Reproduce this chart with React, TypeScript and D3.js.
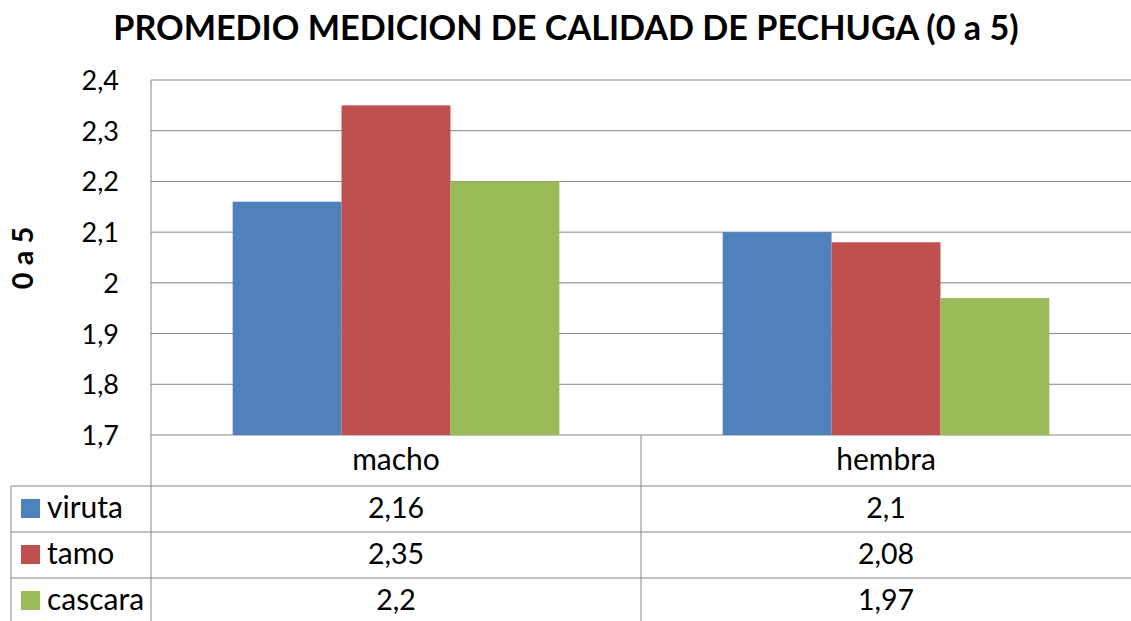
import React from "react";
import * as d3 from "d3";

const categories = ["macho", "hembra"];
const seriesNames = ["viruta", "tamo", "cascara"];
const viruta = [2.16, 2.1];
const tamo = [2.35, 2.08];
const cascara = [2.2, 1.97];
const seriesColors = ["#4F81BD", "#C0504D", "#9BBB59"];
const yTicks = [1.7, 1.8, 1.9, 2.0, 2.1, 2.2, 2.3, 2.4];
const tickLabels = ["1,7", "1,8", "1,9", "2", "2,1", "2,2", "2,3", "2,4"];
const valueLabels = [["2,16", "2,1"], ["2,35", "2,08"], ["2,2", "1,97"]];

const W = 1131;
const H = 621;
const FONT = "Lato, 'Open Sans', sans-serif";

export default function App() {
  const series = [viruta, tamo, cascara];
  const left = 151, right = 1131, top = 80, bottom = 435;
  const y = d3.scaleLinear().domain([1.7, 2.4]).range([bottom, top]);
  const x0 = d3.scaleBand().domain(categories).range([left, right]).paddingInner(0).paddingOuter(0);
  const x1 = d3.scaleBand().domain(seriesNames).range([0, x0.bandwidth()]).paddingOuter(0.75).paddingInner(0);
  const rowTops = [435, 486, 532, 578, 624];
  const grid = "#868686";

  return (
    <svg width={W} height={H} style={{ position: "absolute", left: 0, top: 0, display: "block" }}>
      <rect x={0} y={0} width={W} height={H} fill="#fff" />
      <text x={566} y={40} textAnchor="middle" fontFamily={FONT} fontWeight="bold" fontSize={34.2} fill="#000">
        PROMEDIO MEDICION DE CALIDAD DE PECHUGA (0 a 5)
      </text>
      <text transform={`translate(33,258) rotate(-90)`} textAnchor="middle" fontFamily={FONT} fontWeight="bold" fontSize={29} fill="#000">
        0 a 5
      </text>
      {yTicks.map((t, i) => (
        <g key={t}>
          <line x1={left} x2={right} y1={y(t)} y2={y(t)} stroke={grid} strokeWidth={1} />
          <text x={119} y={y(t) + 10} textAnchor="end" fontFamily={FONT} fontSize={27} fill="#000">
            {tickLabels[i]}
          </text>
        </g>
      ))}
      <line x1={left} x2={left} y1={top} y2={H} stroke={grid} />
      {categories.map((c, ci) =>
        series.map((s, si) => (
          <rect
            key={c + si}
            x={(x0(c) as number) + (x1(seriesNames[si]) as number)}
            width={x1.bandwidth()}
            y={y(s[ci])}
            height={bottom - y(s[ci])}
            fill={seriesColors[si]}
          />
        ))
      )}
      {/* data table */}
      {rowTops.slice(1, 4).map((r) => (
        <line key={r} x1={11} x2={right} y1={r} y2={r} stroke={grid} />
      ))}
      <line x1={11} x2={11} y1={486} y2={H} stroke={grid} />
      {categories.slice(1).map((c) => (
        <line key={c} x1={x0(c)} x2={x0(c)} y1={bottom} y2={H} stroke={grid} />
      ))}
      {categories.map((c) => (
        <text key={c} x={(x0(c) as number) + x0.bandwidth() / 2} y={470} textAnchor="middle" fontFamily={FONT} fontSize={30} fill="#000">
          {c}
        </text>
      ))}
      {seriesNames.map((s, si) => {
        const ry = rowTops[si + 1];
        return (
          <g key={s}>
            <rect x={21} y={ry + 13} width={19} height={19} fill={seriesColors[si]} />
            <text x={47} y={ry + 32} fontFamily={FONT} fontSize={30} fill="#000">
              {s}
            </text>
            {categories.map((c, ci) => (
              <text key={c} x={(x0(c) as number) + x0.bandwidth() / 2} y={ry + 32} textAnchor="middle" fontFamily={FONT} fontSize={28.5} fill="#000">
                {valueLabels[si][ci]}
              </text>
            ))}
          </g>
        );
      })}
    </svg>
  );
}
